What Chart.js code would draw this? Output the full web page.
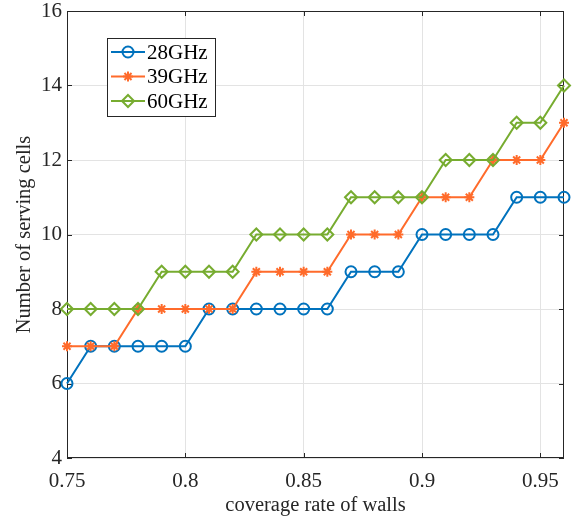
<!DOCTYPE html>
<html>
<head>
<meta charset="utf-8">
<script src="https://cdn.jsdelivr.net/npm/chart.js@4.4.1/dist/chart.umd.min.js"></script>
<style>
  html, body { margin: 0; padding: 0; background: #fff; }
  #wrap { width: 572px; height: 518px; position: relative; }
</style>
</head>
<body>
<div id="wrap"><canvas id="c"></canvas></div>
<script>
// data
var coverage = [0.75, 0.76, 0.77, 0.78, 0.79, 0.80, 0.81, 0.82, 0.83, 0.84, 0.85,
                0.86, 0.87, 0.88, 0.89, 0.90, 0.91, 0.92, 0.93, 0.94, 0.95, 0.96];
var cells28 = [6, 7, 7, 7, 7, 7, 8, 8, 8, 8, 8, 8, 9, 9, 9, 10, 10, 10, 10, 11, 11, 11];
var cells39 = [7, 7, 7, 8, 8, 8, 8, 8, 9, 9, 9, 9, 10, 10, 10, 11, 11, 11, 12, 12, 12, 13];
var cells60 = [8, 8, 8, 8, 9, 9, 9, 9, 10, 10, 10, 10, 11, 11, 11, 11, 12, 12, 12, 13, 13, 14];
var xTicks = [0.75, 0.8, 0.85, 0.9, 0.95];
var yTicks = [4, 6, 8, 10, 12, 14, 16];

var FONT = "'Liberation Serif', 'Times New Roman', serif";
var AXIS = '#262626';

function pts(ys) {
  return coverage.map(function (x, i) { return { x: x, y: ys[i] }; });
}

function series(label, ys, color, style, r, order) {
  return {
    label: label,
    data: pts(ys),
    borderColor: color,
    backgroundColor: 'rgba(0,0,0,0)',
    borderWidth: 2,
    pointStyle: style,
    pointRadius: r,
    pointBorderWidth: 2,
    pointBorderColor: color,
    pointBackgroundColor: 'rgba(0,0,0,0)',
    tension: 0,
    clip: false,
    order: order
  };
}

// box, inward ticks and legend in matlab style
var boxPlugin = {
  id: 'box',
  beforeDatasetsDraw: function (chart) {
    var c = chart.ctx, a = chart.chartArea;
    var xs = chart.scales.x, ys = chart.scales.y;
    c.save();
    c.strokeStyle = AXIS;
    c.lineWidth = 1;
    c.strokeRect(a.left + 0.5, a.top + 0.5, a.right - a.left - 1, a.bottom - a.top - 1);
    c.beginPath();
    xTicks.forEach(function (v) {
      var px = Math.round(xs.getPixelForValue(v)) + 0.5;
      c.moveTo(px, a.bottom); c.lineTo(px, a.bottom - 5);
      c.moveTo(px, a.top); c.lineTo(px, a.top + 5);
    });
    yTicks.forEach(function (v) {
      var py = Math.round(ys.getPixelForValue(v)) + 0.5;
      c.moveTo(a.left, py); c.lineTo(a.left + 5, py);
      c.moveTo(a.right, py); c.lineTo(a.right - 5, py);
    });
    c.stroke();
    c.restore();
  },
  afterDraw: function (chart) {
    var c = chart.ctx;
    c.save();
    // legend
    var lx = 107, ly = 38, lw = 108, lh = 78;
    c.fillStyle = '#fff';
    c.fillRect(lx, ly, lw, lh);
    c.strokeStyle = AXIS;
    c.lineWidth = 1;
    c.strokeRect(lx + 0.5, ly + 0.5, lw, lh);
    var rows = [chart.data.datasets[0], chart.data.datasets[1], chart.data.datasets[2]];
    rows.forEach(function (ds, i) {
      var y = 52 + i * 24.5;
      c.strokeStyle = ds.borderColor;
      c.lineWidth = 2;
      c.beginPath();
      c.moveTo(111, y); c.lineTo(145, y);
      c.stroke();
      c.fillStyle = 'rgba(0,0,0,0)';
      Chart.helpers.drawPoint(c, { pointStyle: ds.pointStyle, radius: ds.pointRadius, rotation: 0, borderWidth: 2 }, 128, y);
      c.fillStyle = '#000';
      c.font = '21px ' + FONT;
      c.textBaseline = 'middle';
      c.textAlign = 'left';
      c.fillText(ds.label, 147, y + 1);
    });
    c.restore();
  }
};

new Chart(document.getElementById('c'), {
  type: 'line',
  data: {
    datasets: [
      series('28GHz', cells28, '#0072BD', 'circle', 5.5, 2),
      series('39GHz', cells39, '#FF6B2B', 'star', 5, 1),
      series('60GHz', cells60, '#77AC30', 'rectRot', 6, 0)
    ]
  },
  options: {
    responsive: true,
    maintainAspectRatio: false,
    animation: false,
    layout: { padding: { top: 11, right: 6, left: 0, bottom: 0 } },
    plugins: { legend: { display: false }, tooltip: { enabled: false } },
    scales: {
      x: {
        type: 'linear',
        min: 0.75,
        max: 0.96,
        afterBuildTicks: function (s) { s.ticks = xTicks.map(function (v) { return { value: v }; }); },
        afterFit: function (s) {
          s.height = 60;
          s.paddingLeft = 0; s.paddingRight = 0;
        },
        grid: { color: '#e3e3e3', drawTicks: false },
        border: { display: false },
        ticks: {
          color: '#262626',
          font: { family: FONT, size: 21 },
          padding: 11,
          maxRotation: 0,
          callback: function (v) { return String(v); }
        },
        title: {
          display: true,
          text: 'coverage rate of walls',
          color: '#262626',
          font: { family: FONT, size: 20.5 },
          padding: { top: 0, bottom: 0 }
        }
      },
      y: {
        min: 4,
        max: 16,
        afterBuildTicks: function (s) { s.ticks = yTicks.map(function (v) { return { value: v }; }); },
        afterFit: function (s) {
          s.width = 67;
          s.paddingTop = 0; s.paddingBottom = 0;
        },
        grid: { color: '#e3e3e3', drawTicks: false },
        border: { display: false },
        ticks: {
          color: '#262626',
          font: { family: FONT, size: 21 },
          padding: 5
        },
        title: {
          display: true,
          text: 'Number of serving cells',
          color: '#262626',
          font: { family: FONT, size: 20.5 },
          padding: { top: 12, bottom: 0 }
        }
      }
    }
  },
  plugins: [boxPlugin]
});
</script>
</body>
</html>
